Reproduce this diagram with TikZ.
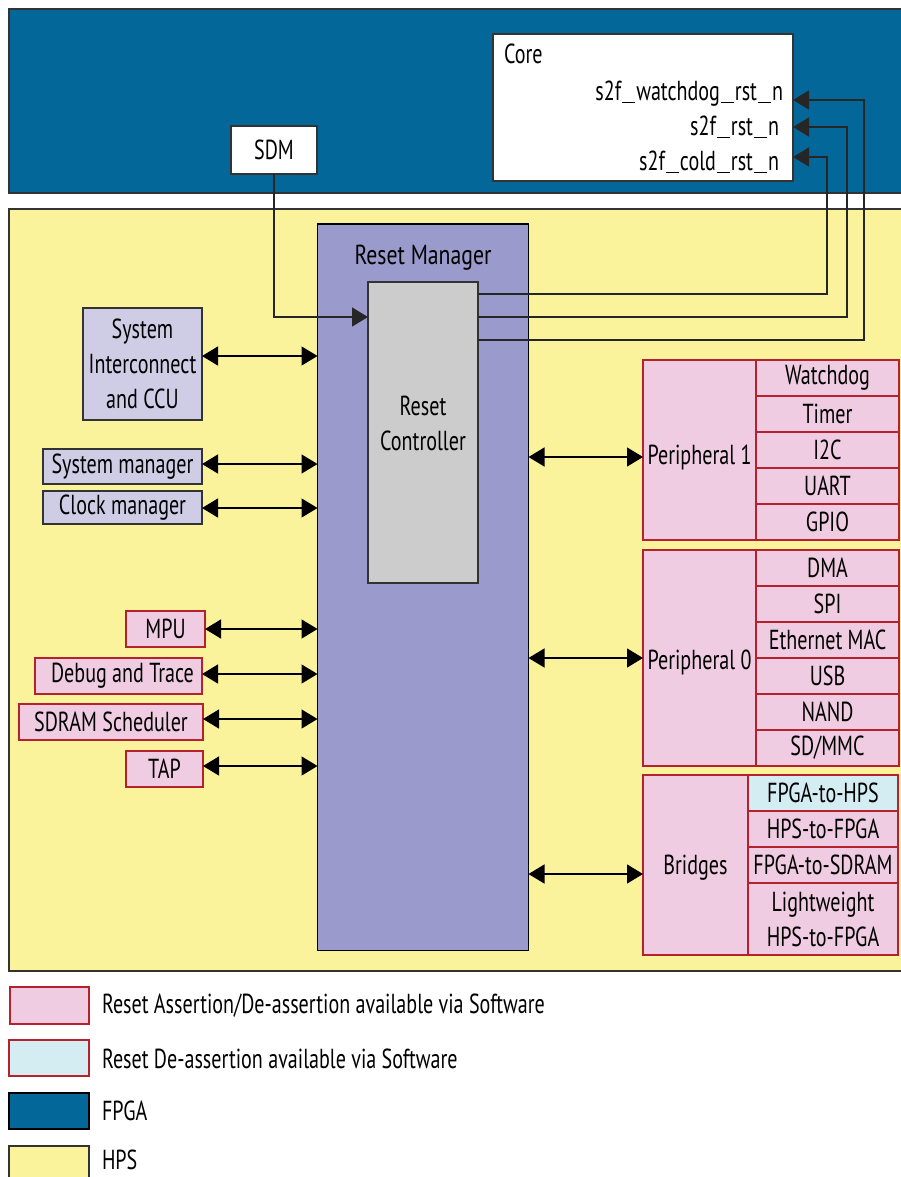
\documentclass[tikz,border=0pt]{standalone}
\usepackage{fontspec}
\setmainfont{PT Sans}[FakeStretch=0.73]
\usetikzlibrary{arrows.meta}

\definecolor{fpgablue}{HTML}{04679A}
\definecolor{hpsyellow}{HTML}{FBF39C}
\definecolor{rmpurple}{HTML}{9A9ACC}
\definecolor{ctrlgray}{HTML}{CCCCCC}
\definecolor{lavender}{HTML}{CFCCE6}
\definecolor{pinkfill}{HTML}{EFCCE2}
\definecolor{pinkedge}{HTML}{B5222D}
\definecolor{swblue}{HTML}{D3EDF3}
\definecolor{edgegray}{HTML}{333333}

% box from corner (x1,y1) to (x2,y2): style, x1, y1, x2, y2, name, text
\newcommand\mkbox[7]{%
  \node[#1, minimum width={(#4-#2)*1pt}, minimum height={(#5-#3)*1pt}]
    (#6) at ({(#2+#4)/2},{(#3+#5)/2}) {#7};}
% wide underscore used in the signal names
\newcommand\us{\kern1pt\rule[-2.5pt]{13pt}{1.6pt}\kern1pt}

\tikzset{
  base/.style={draw, line width=1.4pt, inner sep=0pt, outer sep=0pt, align=center},
  region/.style={base, draw=edgegray},
  whitebox/.style={base, draw=edgegray, fill=white},
  lavbox/.style={base, draw=edgegray, fill=lavender},
  pinkbox/.style={base, draw=pinkedge, fill=pinkfill},
  swbox/.style={base, draw=pinkedge, fill=swblue},
  txt/.style={inner sep=0pt, outer sep=0pt, align=center},
  bi/.style={line width=1.4pt, {Triangle[length=16pt,width=19pt]}-{Triangle[length=16pt,width=19pt]}},
  sig/.style={line width=1.4pt, draw=black!85},
  sigarrow/.style={sig, -{Triangle[length=16pt,width=19pt]}},
}

\begin{document}
\begin{tikzpicture}[x=1pt, y=-1pt, font=\fontsize{27.5}{35}\selectfont]
\useasboundingbox (0,0) rectangle (900,1177);
\fill[white] (0,0) rectangle (900,1177);

% FPGA and HPS regions
\mkbox{region, fill=fpgablue}{9}{9}{910}{193}{fpga}{}
\mkbox{region, fill=hpsyellow}{9}{209}{910}{971}{hps}{}

% FPGA core and SDM
\mkbox{whitebox}{493}{34}{793}{181}{core}{}
\node[txt, anchor=base west] (coret) at (504,64) {Core};
\node[txt, anchor=base east] (lwd) at (783,101) {s2f\us watchdog\us rst\us n};
\node[txt, anchor=base east] (lrst) at (779,136) {s2f\us rst\us n};
\node[txt, anchor=base east] (lcold) at (779,171) {s2f\us cold\us rst\us n};
\coordinate (pwd) at (793,100);
\coordinate (prst) at (793,127);
\coordinate (pcold) at (793,157);
\mkbox{whitebox}{231}{126}{317}{174}{sdm}{SDM}

% Reset manager
\mkbox{base, draw=black, fill=rmpurple}{317.5}{224}{528.5}{950.5}{rm}{}
\node[txt] (rmt) at (423,258) {\addfontfeature{FakeStretch=0.79}Reset Manager};
\mkbox{base, draw=edgegray, fill=ctrlgray}{368}{282}{478}{583}{ctrl}{}
\node[txt] (ctrlt) at (423,423) {Reset\\Controller};

% left-side blocks
\mkbox{lavbox}{83}{308}{202}{420}{sysic}{System\\Interconnect\\and CCU}
\mkbox{lavbox}{43}{449}{202}{484}{sysman}{System manager}
\mkbox{lavbox}{43}{491}{202}{524}{clkman}{Clock manager}
\mkbox{pinkbox}{126}{611}{205}{647}{mpu}{MPU}
\mkbox{pinkbox}{35}{658}{202}{694}{dbg}{\hspace*{8pt}Debug and Trace}
\mkbox{pinkbox}{19}{704}{203}{740}{sdram}{SDRAM Scheduler}
\mkbox{pinkbox}{126}{751}{203}{787}{tap}{TAP}

% Peripheral 1
\mkbox{pinkbox}{643}{360}{756}{540}{pone}{}
\node[txt] (ponet) at (699.5,457) {Peripheral 1};
\mkbox{pinkbox}{756}{360}{899}{396}{wdt}{Watchdog}
\mkbox{pinkbox}{756}{396}{899}{432}{tmr}{Timer}
\mkbox{pinkbox}{756}{432}{899}{468}{itc}{I2C}
\mkbox{pinkbox}{756}{468}{899}{504}{uart}{UART}
\mkbox{pinkbox}{756}{504}{899}{540}{gpio}{GPIO}

% Peripheral 0
\mkbox{pinkbox}{643}{550}{756}{766}{pzero}{}
\node[txt] (pzerot) at (699.5,662) {Peripheral 0};
\mkbox{pinkbox}{756}{550}{899}{586}{dma}{DMA}
\mkbox{pinkbox}{756}{586}{899}{622}{spi}{SPI}
\mkbox{pinkbox}{756}{622}{899}{658}{emac}{Ethernet MAC}
\mkbox{pinkbox}{756}{658}{899}{694}{usb}{USB}
\mkbox{pinkbox}{756}{694}{899}{730}{nand}{NAND}
\mkbox{pinkbox}{756}{730}{899}{766}{sdmmc}{SD/MMC}

% Bridges
\mkbox{pinkbox}{643}{775}{748}{955}{brg}{}
\node[txt] (brgt) at (695.5,868) {Bridges};
\mkbox{swbox}{748}{775}{898}{811}{fth}{FPGA-to-HPS}
\mkbox{pinkbox}{748}{811}{898}{847}{htf}{HPS-to-FPGA}
\mkbox{pinkbox}{748}{847}{898}{883}{fts}{FPGA-to-SDRAM}
\mkbox{pinkbox}{748}{883}{898}{955}{lw}{Lightweight\\HPS-to-FPGA}

% bidirectional reset links
\draw[bi] (sysic.east |- 0,356) -- (rm.west |- 0,356);
\draw[bi] (sysman.east |- 0,464) -- (rm.west |- 0,464);
\draw[bi] (clkman.east |- 0,508) -- (rm.west |- 0,508);
\draw[bi] (mpu.east |- 0,629) -- (rm.west |- 0,629);
\draw[bi] (dbg.east |- 0,674) -- (rm.west |- 0,674);
\draw[bi] (sdram.east |- 0,719) -- (rm.west |- 0,719);
\draw[bi] (tap.east |- 0,766) -- (rm.west |- 0,766);
\draw[bi] (rm.east |- 0,457) -- (pone.west |- 0,457);
\draw[bi] (rm.east |- 0,658) -- (pzero.west |- 0,658);
\draw[bi] (rm.east |- 0,874) -- (brg.west |- 0,874);

% SDM request into the reset controller
\coordinate (cin) at (368,317);
\draw[sigarrow] (sdm.south) |- (cin);

% reset outputs to the FPGA core
\coordinate (cone) at (478,294);
\coordinate (ctwo) at (478,317);
\coordinate (cthree) at (478,340);
\draw[sigarrow] (cone) -| ([xshift=34pt]pcold) -- (pcold);
\draw[sigarrow] (ctwo) -| ([xshift=54pt]prst) -- (prst);
\draw[sigarrow] (cthree) -| ([xshift=71pt]pwd) -- (pwd);

% legend
\mkbox{pinkbox}{10}{987}{89}{1024}{kone}{}
\node[txt, anchor=west] (kt1) at (102,1006) {Reset Assertion/De-assertion available via Software};
\mkbox{swbox}{9}{1040}{89}{1076}{ktwo}{}
\node[txt, anchor=west] (kt2) at (102,1059) {Reset De-assertion available via Software};
\mkbox{base, draw=black, fill=fpgablue}{9}{1093}{89}{1129}{kthree}{}
\node[txt, anchor=west] (kt3) at (102,1111) {FPGA};
\mkbox{region, fill=hpsyellow}{9}{1146}{89}{1185}{kfour}{}
\node[txt, anchor=base west, text depth=0pt] (kt4) at (102,1169) {HPS};
\end{tikzpicture}
\end{document}
